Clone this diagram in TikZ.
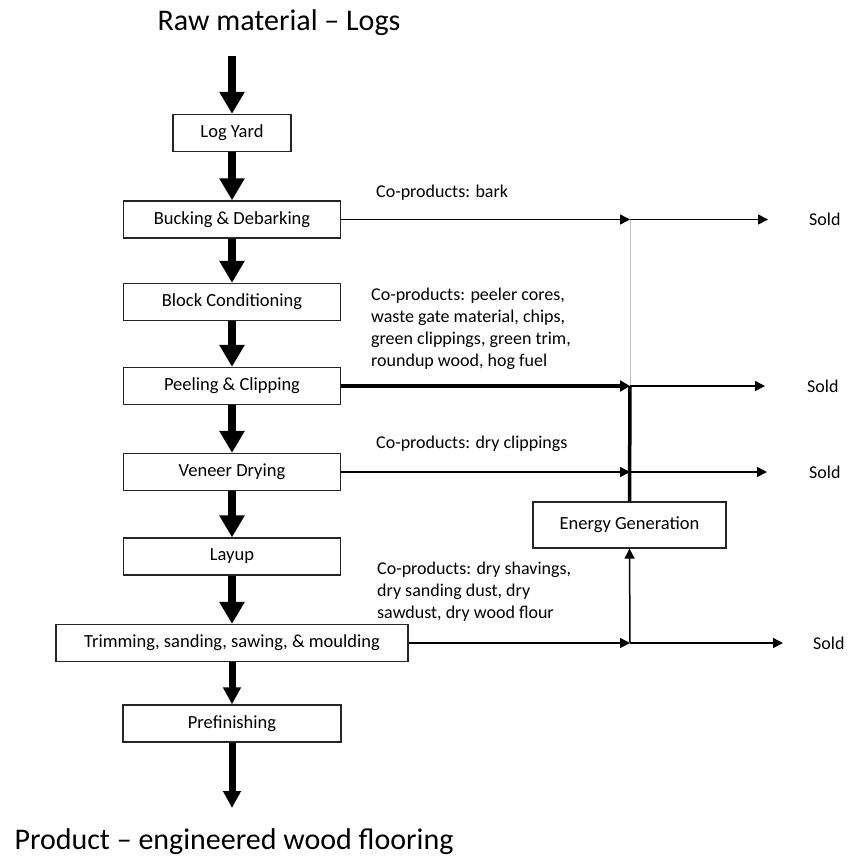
\documentclass[tikz,border=0pt]{standalone}
\usepackage{fontspec}
\setmainfont{Carlito}
\usetikzlibrary{arrows.meta}
\tikzset{
  procbox/.style={draw=black!85, line width=1.3pt, minimum height=37pt, inner sep=0pt, font=\fontsize{18.5}{22}\selectfont},
  flow/.style={line width=7.5pt, -{Triangle[width=24pt,length=22pt]}},
  flowsm/.style={line width=7pt, -{Triangle[width=17pt,length=17pt]}},
  side/.style={line width=1.5pt, -{Triangle[width=10pt,length=10pt]}},
  sidethick/.style={line width=3.5pt, -{Triangle[width=11pt,length=10pt]}},
  lbl/.style={anchor=west, align=left, inner sep=0pt, font=\fontsize{18}{22}\selectfont},
  bigtext/.style={inner sep=0pt, font=\fontsize{30}{34}\selectfont}
}
\begin{document}
\begin{tikzpicture}[x=1pt, y=-1pt]
        \useasboundingbox (0,0) rectangle (847,860);
        % titles
        \node[bigtext] (raw) at (279,23) {Raw material -- Logs};
        \node[bigtext] (product) at (234,842) {Product -- engineered wood flooring};
        % main column
        \node[procbox, minimum width=118pt] (logyard) at (232,133) {Log Yard};
        \node[procbox, minimum width=217pt] (bucking) at (232,219.5) {Bucking \& Debarking};
        \node[procbox, minimum width=217pt] (block) at (232,302) {Block Conditioning};
        \node[procbox, minimum width=217pt] (peeling) at (232,386) {Peeling \& Clipping};
        \node[procbox, minimum width=217pt] (veneer) at (232,472) {Veneer Drying};
        \node[procbox, minimum width=217pt] (layup) at (232,556.5) {Layup};
        \node[procbox, minimum width=352pt] (trimming) at (232,643) {Trimming, sanding, sawing, \& moulding};
        \node[procbox, minimum width=218pt] (prefin) at (232,723.5) {Prefinishing};
        \node[procbox, minimum width=193pt, minimum height=46pt] (energy) at (629.5,525) {Energy Generation};
        % free ends
        \coordinate (rawin) at (232,56);
        \coordinate (prodout) at (232,808);
        % main flow
        \draw[flow] (rawin) -- (logyard);
        \draw[flow] (logyard) -- (bucking);
        \draw[flow] (bucking) -- (block);
        \draw[flow] (block) -- (peeling);
        \draw[flow] (peeling) -- (veneer);
        \draw[flow] (veneer) -- (layup);
        \draw[flow] (layup) -- (trimming);
        \draw[flowsm] (trimming) -- (prefin);
        \draw[flowsm] (prefin) -- (prodout);
        % junctions and ends
        \coordinate (jbark) at (630,219.5);
        \coordinate (jpeel) at (630,386);
        \coordinate (jdry) at (630,472);
        \coordinate (jtrim) at (630,643);
        \coordinate (ebark) at (768,219.5);
        \coordinate (epeel) at (765,386);
        \coordinate (edry) at (767,472);
        \coordinate (etrim) at (783,643);
        % co-products
        \node[lbl] (cobark) at (376,193) {Co-products: bark};
        \node[lbl] (copeel) at (371,328.5) {Co-products: peeler cores,\\waste gate material, chips,\\green clippings, green trim,\\roundup wood, hog fuel};
        \node[lbl] (codry) at (376,444) {Co-products: dry clippings};
        \node[lbl] (cotrim) at (377,591.5) {Co-products: dry shavings,\\dry sanding dust, dry\\sawdust, dry wood flour};
        \node[lbl] (soldbark) at (809,219.5) {Sold};
        \node[lbl] (soldpeel) at (807,386) {Sold};
        \node[lbl] (solddry) at (809,472) {Sold};
        \node[lbl] (soldtrim) at (813,643) {Sold};
        % side flows
        \draw[black!25, line width=0.8pt] (jbark) -- (jpeel);
        \draw[side] (bucking.east) -- (jbark);
        \draw[side] (jbark) -- (ebark);
        \draw[sidethick] (peeling.east) -- (jpeel);
        \draw[side] (jpeel) -- (epeel);
        \draw[side] (veneer.east) -- (jdry);
        \draw[side] (jdry) -- (edry);
        \draw[side] (trimming.east) -- (jtrim);
        \draw[side] (jtrim) -- (etrim);
        \draw[line width=3.5pt] (energy.north) -- (jpeel);
        \draw[side] (jtrim) -- (energy.south);
\end{tikzpicture}
\end{document}
